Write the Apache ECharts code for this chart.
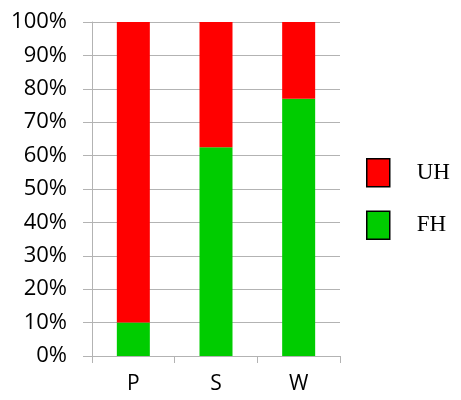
<!DOCTYPE html>
<html>
<head>
<meta charset="utf-8">
<script src="https://cdn.jsdelivr.net/npm/echarts@6/dist/echarts.min.js"></script>
<style>html,body{margin:0;padding:0;background:#fff}#c{width:461px;height:400px}</style>
</head>
<body>
<div id="c"></div>
<script>
var categories = ['P', 'S', 'W'];
var fhValues = [10, 62.5, 77];
var uhValues = [90, 37.5, 23];
var yTicks = [0, 10, 20, 30, 40, 50, 60, 70, 80, 90, 100];

var chart = echarts.init(document.getElementById('c'));
var grey = '#b3b3b3';
chart.setOption({
  animation: false,
  backgroundColor: '#fff',
  grid: { left: 92, right: 121, top: 22, bottom: 44 },
  legend: {
    orient: 'vertical',
    left: 361, top: 153,
    itemWidth: 23, itemHeight: 28, itemGap: 23,
    icon: 'rect',
    data: ['UH', 'FH'],
    itemStyle: { borderColor: '#000', borderWidth: 1.5 },
    textStyle: { fontFamily: 'Liberation Serif', fontSize: 23, color: '#000', padding: [0, 0, 0, 22] }
  },
  xAxis: {
    type: 'category',
    data: categories,
    axisLine: { lineStyle: { color: grey, width: 1 } },
    axisTick: { show: true, length: 7, lineStyle: { color: grey } },
    axisLabel: { fontFamily: 'Open Sans', fontSize: 21, color: '#000', margin: 18 }
  },
  yAxis: {
    type: 'value',
    min: yTicks[0], max: yTicks[yTicks.length - 1], interval: 10,
    axisLine: { show: true, lineStyle: { color: grey, width: 1 } },
    axisTick: { show: true, length: 9, lineStyle: { color: grey } },
    splitLine: { lineStyle: { color: grey, width: 1 } },
    axisLabel: { formatter: '{value}%', fontFamily: 'Open Sans', fontSize: 22, color: '#000', margin: 25 }
  },
  series: [
    { name: 'FH', type: 'bar', stack: 'a', data: fhValues, barWidth: 33, itemStyle: { color: '#00cc00' } },
    { name: 'UH', type: 'bar', stack: 'a', data: uhValues, barWidth: 33, itemStyle: { color: '#ff0000' } }
  ]
});
</script>
</body>
</html>
